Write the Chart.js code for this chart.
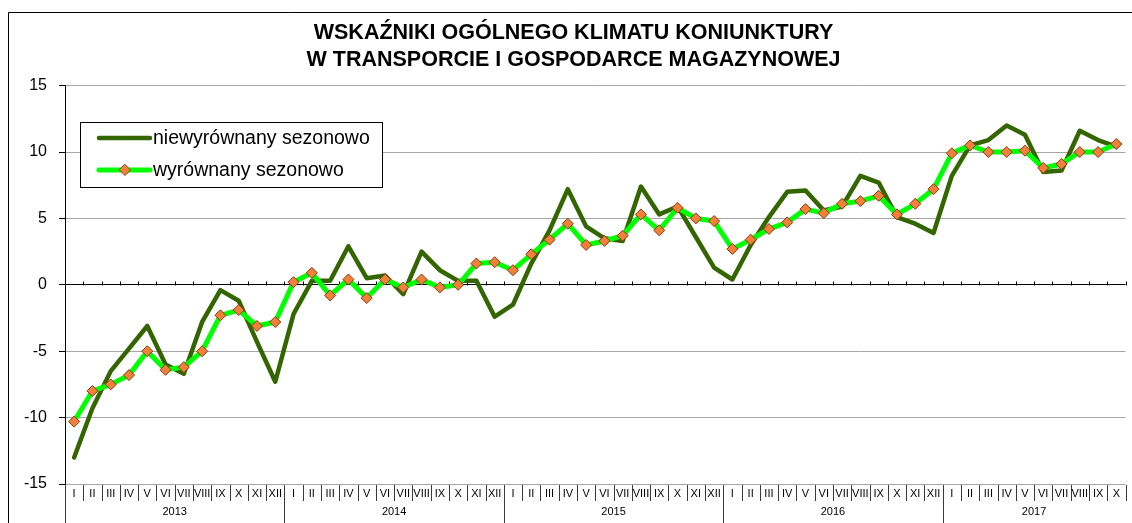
<!DOCTYPE html>
<html lang="pl">
<head>
<meta charset="utf-8">
<title>Wskaźniki ogólnego klimatu koniunktury</title>
<script src="https://cdn.jsdelivr.net/npm/chart.js@4.4.1/dist/chart.umd.min.js"></script>
<style>
    html, body { margin: 0; padding: 0; background: #ffffff; }
    #chart { display: block; }
</style>
</head>
<body>
<canvas id="chart" width="1132" height="523"></canvas>
<script>
const titleLines = [
    'WSKAŹNIKI OGÓLNEGO KLIMATU KONIUNKTURY',
    'W TRANSPORCIE I GOSPODARCE MAGAZYNOWEJ'
];
const years = ['2013', '2014', '2015', '2016', '2017'];
const monthsPerYear = [12, 12, 12, 12, 10];
const monthNames = ['I', 'II', 'III', 'IV', 'V', 'VI', 'VII', 'VIII', 'IX', 'X', 'XI', 'XII'];
const yTicks = [-15, -10, -5, 0, 5, 10, 15];
const seriesLabels = ['niewyrównany sezonowo', 'wyrównany sezonowo'];

// 2013-I ... 2017-X
const niewyrownany = [
    -13.0, -9.3, -6.5, -4.8, -3.1, -6.0, -6.7, -2.8, -0.4, -1.2, -4.3, -7.3,
    -2.2, 0.3, 0.3, 2.9, 0.5, 0.7, -0.7, 2.5, 1.1, 0.3, 0.3, -2.4,
    -1.5, 1.6, 4.1, 7.2, 4.4, 3.5, 3.3, 7.4, 5.3, 5.9, 3.6, 1.3,
    0.4, 3.0, 5.1, 7.0, 7.1, 5.6, 5.9, 8.2, 7.7, 5.1, 4.6, 3.9,
    8.2, 10.5, 10.9, 12.0, 11.3, 8.5, 8.6, 11.6, 10.9, 10.4
];
const wyrownany = [
    -10.3, -8.0, -7.5, -6.8, -5.0, -6.4, -6.2, -5.0, -2.3, -1.9, -3.1, -2.8,
    0.2, 0.9, -0.8, 0.4, -1.0, 0.4, -0.2, 0.4, -0.2, 0.0, 1.6, 1.7,
    1.1, 2.3, 3.4, 4.6, 3.0, 3.3, 3.7, 5.3, 4.1, 5.8, 5.0, 4.8,
    2.7, 3.4, 4.2, 4.7, 5.7, 5.4, 6.1, 6.3, 6.7, 5.3, 6.1, 7.2,
    9.9, 10.5, 10.0, 10.0, 10.1, 8.8, 9.1, 10.0, 10.0, 10.6
];

const categories = years.flatMap((year, i) =>
    monthNames.slice(0, monthsPerYear[i]).map(month => `${month} ${year}`));

const FONT = '"Liberation Sans", Arial, sans-serif';
const GRID_GRAY = '#a6a6a6';

/**
 * Draws a diamond marker like the ones of the seasonal adjusted series.
 */
function drawDiamond(ctx, x, y, r, fill, stroke) {
    ctx.beginPath();
    ctx.moveTo(x, y - r);
    ctx.lineTo(x + r, y);
    ctx.lineTo(x, y + r);
    ctx.lineTo(x - r, y);
    ctx.closePath();
    ctx.fillStyle = fill;
    ctx.fill();
    ctx.lineWidth = 1;
    ctx.strokeStyle = stroke;
    ctx.stroke();
}

// White background and the outer frame (left and top edges only are visible)
const framePlugin = {
    id: 'frame',
    beforeDraw(chart) {
        const { ctx, width, height } = chart;
        ctx.save();
        ctx.fillStyle = '#ffffff';
        ctx.fillRect(0, 0, width, height);
        ctx.strokeStyle = '#000000';
        ctx.lineWidth = 1;
        ctx.beginPath();
        ctx.moveTo(8.5, height);
        ctx.lineTo(8.5, 12.5);
        ctx.lineTo(width, 12.5);
        ctx.stroke();
        ctx.restore();
    }
};

// Small ticks on the zero line plus the two-row month / year axis underneath
const categoryAxisPlugin = {
    id: 'categoryAxis',
    beforeDatasetsDraw(chart) {
        const { ctx, scales: { x, y } } = chart;
        const step = x.getPixelForValue(1) - x.getPixelForValue(0);
        const zeroY = Math.round(y.getPixelForValue(0)) + 0.5;
        ctx.save();
        ctx.strokeStyle = '#000000';
        ctx.lineWidth = 1;
        ctx.beginPath();
        for (let i = 0; i <= categories.length; i++) {
            const bx = Math.round(x.getPixelForValue(i) - step / 2) + 0.5;
            ctx.moveTo(bx, zeroY);
            ctx.lineTo(bx, zeroY - 4);
        }
        ctx.stroke();
        ctx.restore();
    },
    afterDraw(chart) {
        const { ctx, chartArea, scales: { x } } = chart;
        const step = x.getPixelForValue(1) - x.getPixelForValue(0);
        const top = chartArea.bottom;
        const yearStarts = new Set();
        let start = 0;
        monthsPerYear.forEach(n => { yearStarts.add(start); start += n; });

        ctx.save();
        ctx.strokeStyle = '#3a3a3a';
        ctx.lineWidth = 1;
        ctx.beginPath();
        for (let i = 0; i <= categories.length; i++) {
            const bx = Math.round(x.getPixelForValue(i) - step / 2) + 0.5;
            ctx.moveTo(bx, top + 1);
            ctx.lineTo(bx, yearStarts.has(i) ? chart.height : top + 17);
        }
        ctx.stroke();

        ctx.fillStyle = '#000000';
        ctx.textAlign = 'center';
        ctx.textBaseline = 'middle';
        ctx.font = `11px ${FONT}`;
        categories.forEach((label, i) => {
            ctx.fillText(label.split(' ')[0], x.getPixelForValue(i), top + 10);
        });

        let first = 0;
        years.forEach((year, i) => {
            const last = first + monthsPerYear[i] - 1;
            const cx = (x.getPixelForValue(first) + x.getPixelForValue(last)) / 2;
            ctx.fillText(year, cx, top + 28);
            first = last + 1;
        });
        ctx.restore();
    }
};

// Legend in a framed box inside the plot area
const boxLegendPlugin = {
    id: 'boxLegend',
    afterDatasetsDraw(chart) {
        const { ctx } = chart;
        ctx.save();
        ctx.fillStyle = '#ffffff';
        ctx.fillRect(80.5, 122.5, 302, 65);
        ctx.strokeStyle = '#000000';
        ctx.lineWidth = 1;
        ctx.strokeRect(80.5, 122.5, 302, 65);

        chart.data.datasets.forEach((ds, i) => {
            const rowY = 138 + i * 32;
            ctx.beginPath();
            ctx.moveTo(99, rowY);
            ctx.lineTo(150, rowY);
            ctx.strokeStyle = ds.borderColor;
            ctx.lineWidth = ds.borderWidth;
            ctx.lineCap = 'round';
            ctx.stroke();
            if (ds.pointRadius > 0) {
                drawDiamond(ctx, 125, rowY, ds.pointRadius, ds.pointBackgroundColor, ds.pointBorderColor);
            }
            ctx.fillStyle = '#000000';
            ctx.font = `19.5px ${FONT}`;
            ctx.textAlign = 'left';
            ctx.textBaseline = 'middle';
            ctx.fillText(ds.label, 153, rowY + 1);
        });
        ctx.restore();
    }
};

new Chart(document.getElementById('chart'), {
    type: 'line',
    data: {
        labels: categories,
        datasets: [{
            label: seriesLabels[0],
            data: niewyrownany,
            borderColor: '#336600',
            borderWidth: 4.5,
            pointRadius: 0,
            pointHoverRadius: 0,
            tension: 0,
            borderJoinStyle: 'round',
            borderCapStyle: 'round',
            order: 1
        }, {
            label: seriesLabels[1],
            data: wyrownany,
            borderColor: '#00ff00',
            borderWidth: 5,
            pointStyle: 'rectRot',
            pointRadius: 5.5,
            pointBackgroundColor: '#f0803c',
            pointBorderColor: '#8b3a0e',
            pointBorderWidth: 1,
            tension: 0,
            borderJoinStyle: 'round',
            borderCapStyle: 'round',
            order: 0
        }]
    },
    options: {
        responsive: false,
        animation: false,
        layout: { padding: { left: 20, right: 5, top: 0, bottom: 0 } },
        plugins: {
            legend: { display: false },
            tooltip: { enabled: false },
            title: {
                display: true,
                text: titleLines,
                color: '#000000',
                font: { family: FONT, size: 21.5, weight: 'bold', lineHeight: 1.27 },
                padding: { top: 19, bottom: 12 }
            }
        },
        scales: {
            x: {
                type: 'category',
                offset: true,
                grid: { display: false },
                border: { display: false },
                ticks: { display: false },
                afterFit: scale => { scale.height = 39; }
            },
            y: {
                min: yTicks[0],
                max: yTicks[yTicks.length - 1],
                afterBuildTicks: scale => { scale.ticks = yTicks.map(v => ({ value: v })); },
                grid: {
                    color: ctx => (ctx.tick && ctx.tick.value === 0 ? '#000000' : GRID_GRAY),
                    tickColor: '#000000',
                    tickLength: 6
                },
                border: { display: true, color: '#000000', width: 1 },
                ticks: {
                    color: '#000000',
                    padding: 12,
                    font: { family: FONT, size: 16 }
                },
                afterFit: scale => { scale.width = 45; }
            }
        }
    },
    plugins: [framePlugin, categoryAxisPlugin, boxLegendPlugin]
});
</script>
</body>
</html>
